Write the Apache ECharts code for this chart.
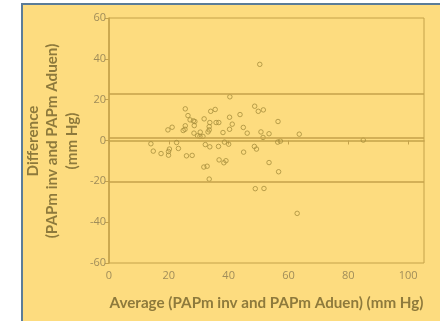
<!DOCTYPE html>
<html lang="en">
<head>
    <meta charset="UTF-8">
    <title>Bland-Altman</title>
    <script type="text/javascript" src="https://cdn.jsdelivr.net/npm/echarts@6/dist/echarts.min.js"></script>
    <style>
        body { margin: 0; background: #fff; }
    </style>
</head>
<body>
    <div id="main" style="width: 440px; height: 321px;"></div>
    <script type="text/javascript">

// average of the two methods (x) and their difference (y)
var avgValues = [
    50.4, 40.4, 25.5, 35.5, 34.0, 48.7, 49.9, 51.6, 43.8, 26.4,
    40.3, 27.1, 31.8, 28.2, 28.7, 56.5, 33.7, 35.8, 36.7, 41.2,
    33.5, 25.5, 28.5, 21.1, 19.7, 44.9, 40.3, 25.4, 24.8, 33.5,
    33.1, 30.5, 50.8, 38.1, 46.2, 28.4, 53.5, 63.6, 29.6, 31.4,
    30.4, 51.5, 85.0, 57.3, 56.4, 38.6, 14.0, 22.6, 40.0, 32.2,
    33.7, 36.6, 48.6, 49.3, 20.2, 23.2, 14.8, 19.9, 45.0, 17.4,
    19.9, 25.9, 27.8, 36.8, 39.1, 38.4, 53.5, 32.8, 31.7, 56.7,
    33.5, 48.9, 51.8, 62.9
];
var diffValues = [
    37.3, 21.4, 15.5, 15.2, 14.3, 16.8, 14.3, 15.0, 12.7, 12.2,
    11.4, 10.1, 10.6, 9.6, 9.3, 9.3, 8.8, 8.8, 8.8, 8.0,
    6.8, 7.2, 7.3, 6.5, 5.2, 6.4, 5.5, 5.5, 4.9, 5.2,
    4.2, 4.1, 4.2, 3.9, 3.6, 3.6, 3.3, 3.1, 2.3, 2.0,
    2.0, 1.5, 0.2, -0.3, -0.8, -0.8, -1.6, -1.0, -1.8, -2.0,
    -3.1, -2.9, -2.9, -4.2, -4.2, -3.9, -5.2, -5.4, -5.7, -6.4,
    -7.2, -7.5, -7.3, -9.5, -9.9, -10.9, -10.8, -12.6, -13.0, -15.3,
    -18.9, -23.6, -23.5, -35.7
];
// upper limit, mean difference, lower limit
var limitLines = [22.7, 1.3, -20.1];
var xTicks = [0, 20, 40, 60, 80, 100];
var yTicks = [-60, -40, -20, 0, 20, 40, 60];
var yTitleLines = ['Difference', '(PAPm inv and PAPm Aduen)', '(mm Hg)'];

var points = avgValues.map(function (x, i) { return [x, diffValues[i]]; });

var lineColor = '#c4a24a';
var textColor = '#a08d5a';
var titleColor = '#8e7a3c';

var chartDom = document.getElementById('main');
var myChart = echarts.init(chartDom);
var option;

// frame behind the plot, then the three lines of the y title
var graphics = [
    {
        type: 'rect',
        z: -10,
        shape: { x: 22, y: 4, width: 500, height: 500 },
        style: { fill: '#fddc7f', stroke: '#5b7c98', lineWidth: 2 }
    }
];
var titleX = [33, 52, 72];
yTitleLines.forEach(function (t, i) {
    graphics.push({
        type: 'text',
        x: titleX[i],
        y: 141,
        rotation: Math.PI / 2,
        style: {
            text: t,
            fill: titleColor,
            font: 'bold 15.2px Lato',
            textAlign: 'center',
            textVerticalAlign: 'middle'
        }
    });
});

option = {
    animation: false,
    graphic: graphics,
    grid: {
        left: 109,
        top: 18,
        right: 16,
        bottom: 58,
        outerBoundsMode: 'none',
        containLabel: false,
        show: true,
        borderColor: lineColor,
        borderWidth: 1,
        backgroundColor: 'transparent'
    },
    xAxis: {
        type: 'value',
        min: 0,
        max: 105.3,
        interval: 20,
        name: 'Average (PAPm inv and PAPm Aduen) (mm Hg)',
        nameLocation: 'middle',
        nameGap: 33,
        nameTextStyle: {
            color: titleColor,
            fontFamily: 'Lato',
            fontWeight: 'bold',
            fontSize: 15.2
        },
        axisLine: { lineStyle: { color: lineColor, width: 1.5 } },
        axisTick: { show: true, length: 4, lineStyle: { color: lineColor } },
        axisLabel: {
            color: textColor,
            fontFamily: 'Open Sans',
            fontSize: 11,
            margin: 7,
            showMaxLabel: false,
            formatter: function (v) { return xTicks.indexOf(v) >= 0 ? v : ''; }
        },
        splitLine: { show: false }
    },
    yAxis: {
        type: 'value',
        min: -60,
        max: 60,
        interval: 20,
        axisLine: { lineStyle: { color: lineColor, width: 1.5 } },
        axisTick: { show: true, length: 4, lineStyle: { color: lineColor } },
        axisLabel: {
            color: textColor,
            fontFamily: 'Open Sans',
            fontSize: 11,
            margin: 3,
            formatter: function (v) { return yTicks.indexOf(v) >= 0 ? v : ''; }
        },
        splitLine: { show: false }
    },
    series: [
        {
            type: 'scatter',
            data: points,
            symbol: 'circle',
            symbolSize: 4.5,
            itemStyle: {
                color: 'transparent',
                borderColor: '#a88e3c',
                borderWidth: 1
            },
            markLine: {
                silent: true,
                symbol: 'none',
                label: { show: false },
                lineStyle: { color: lineColor, type: 'solid', width: 1.5 },
                data: limitLines.map(function (v) { return { yAxis: v }; })
            }
        }
    ]
};

option && myChart.setOption(option);
    </script>
</body>
</html>
